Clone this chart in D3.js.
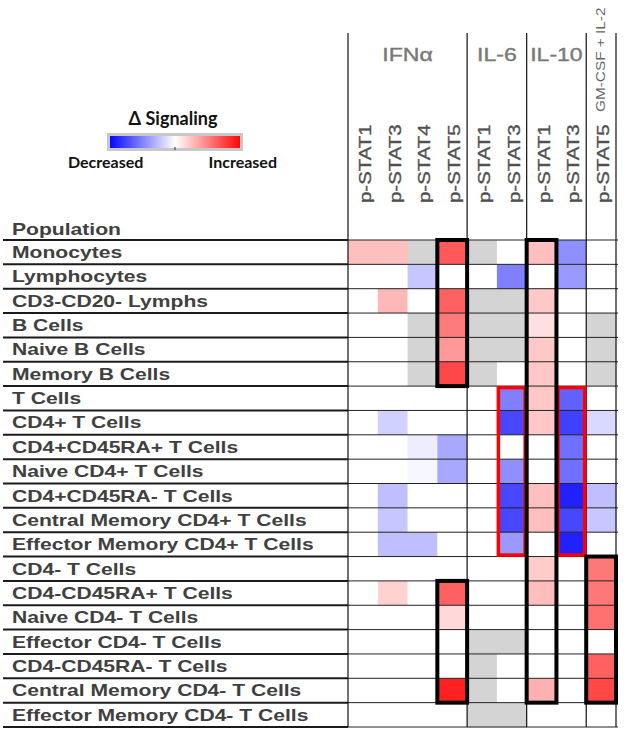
<!DOCTYPE html>
<html>
<head>
<meta charset="utf-8">
<script src="https://cdn.jsdelivr.net/npm/d3@7"></script>
<style>
  body { margin: 0; background: #fff; }
  svg { display: block; }
</style>
</head>
<body>
<div id="chart"></div>
<script>
// populations (rows), top to bottom
var populations = [
    "Monocytes", "Lymphocytes", "CD3-CD20- Lymphs", "B Cells", "Naive B Cells",
    "Memory B Cells", "T Cells", "CD4+ T Cells", "CD4+CD45RA+ T Cells",
    "Naive CD4+ T Cells", "CD4+CD45RA- T Cells", "Central Memory CD4+ T Cells",
    "Effector Memory CD4+ T Cells", "CD4- T Cells", "CD4-CD45RA+ T Cells",
    "Naive CD4- T Cells", "Effector CD4- T Cells", "CD4-CD45RA- T Cells",
    "Central Memory CD4- T Cells", "Effector Memory CD4- T Cells"
];

// readouts (columns)
var readouts = ["p-STAT1", "p-STAT3", "p-STAT4", "p-STAT5", "p-STAT1", "p-STAT3", "p-STAT1", "p-STAT3", "p-STAT5"];

// stimulations and how many readouts each spans
var stimNames = ["IFN\u03b1", "IL-6", "IL-10", "GM-CSF + IL-2"];
var stimSpans = [4, 2, 2, 1];

// change in signaling, -1 (decreased) .. 1 (increased); null = not measured (gray)
var N = null;
var values = [
    [0.25, 0.25, N, 0.65, N, 0, 0.25, -0.44, 0],
    [0, 0, -0.22, 0, 0, -0.5, 0, -0.4, 0],
    [0, 0.28, 0, 0.62, N, N, 0.21, 0, 0],
    [0, 0, N, 0.52, N, N, 0.12, 0, N],
    [0, 0, N, 0.4, N, N, 0.21, 0, N],
    [0, 0, N, 0.72, N, 0, 0.22, 0, N],
    [0, 0, 0, 0, 0, -0.5, 0.22, -0.62, 0],
    [0, -0.18, 0, 0, 0, -0.72, 0.22, -0.75, -0.15],
    [0, 0, -0.07, -0.34, 0, 0, 0, -0.56, 0],
    [0, 0, -0.03, -0.34, 0, -0.44, 0, -0.56, 0],
    [0, -0.25, 0, 0, 0, -0.72, 0.25, -0.87, -0.25],
    [0, -0.22, 0, 0, 0, -0.72, 0.25, -0.72, -0.22],
    [0, -0.25, -0.25, 0, 0, -0.4, 0, -0.87, 0],
    [0, 0, 0, 0, 0, 0, 0.2, 0, 0.53],
    [0, 0.18, 0, 0.62, 0, 0, 0.26, 0, 0.53],
    [0, 0, 0, 0.15, 0, 0, 0, 0, 0.56],
    [0, 0, 0, 0, N, N, 0, 0, 0],
    [0, 0, 0, 0, N, 0, 0, 0, 0.62],
    [0, 0, 0, 0.87, N, 0, 0.31, 0, 0.72],
    [0, 0, 0, 0, N, N, 0, 0, 0]
];

// highlighted blocks: [column, first row, last row]
var blackBoxes = [[3, 0, 5], [6, 0, 18], [3, 14, 18], [8, 13, 18]];
var redBoxes = [[5, 6, 12], [7, 6, 12]];

var width = 625, height = 732;

var svg = d3.select("#chart").append("svg")
    .attr("width", width)
    .attr("height", height);

var x = d3.scaleBand().domain(d3.range(readouts.length)).range([348, 616]);
var y = d3.scaleBand().domain(d3.range(populations.length)).range([240, 727]);

var color = d3.scaleLinear()
    .domain([-1, 0, 1])
    .range(["#0000ff", "#ffffff", "#ff0000"]);

// stretch text horizontally (the original font runs wide)
function widen(sel, factor) {
    sel.each(function() {
        var len = this.getComputedTextLength();
        d3.select(this)
            .attr("textLength", len * factor)
            .attr("lengthAdjust", "spacingAndGlyphs");
    });
}

// cells
var cells = [];
values.forEach(function(row, r) {
    row.forEach(function(v, c) { cells.push({ r: r, c: c, v: v }); });
});

svg.append("g").selectAll("rect")
    .data(cells)
    .enter().append("rect")
    .attr("x", function(d) { return x(d.c); })
    .attr("y", function(d) { return y(d.r); })
    .attr("width", x.bandwidth() + 0.5)
    .attr("height", y.bandwidth() + 0.5)
    .attr("fill", function(d) { return d.v === null ? "#d4d4d4" : color(d.v); });

// horizontal rules
var rowEdges = d3.range(populations.length + 1).map(function(i) {
    return i < populations.length ? y(i) : y.range()[1];
});

svg.append("g").selectAll("line")
    .data(rowEdges)
    .enter().append("line")
    .attr("x1", 3).attr("x2", 348)
    .attr("y1", function(d) { return d; })
    .attr("y2", function(d) { return d; })
    .attr("stroke", "#1a1a1a")
    .attr("stroke-width", 2);

svg.append("g").selectAll("line")
    .data(rowEdges)
    .enter().append("line")
    .attr("x1", 348).attr("x2", 618)
    .attr("y1", function(d) { return d; })
    .attr("y2", function(d) { return d; })
    .attr("stroke", "#222")
    .attr("stroke-width", 1);

// group separators
var groupEdges = [0];
stimSpans.forEach(function(s, i) { groupEdges.push(groupEdges[i] + s); });

svg.append("g").selectAll("line")
    .data(groupEdges)
    .enter().append("line")
    .attr("x1", function(i) { return i < readouts.length ? x(i) : x.range()[1]; })
    .attr("x2", function(i) { return i < readouts.length ? x(i) : x.range()[1]; })
    .attr("y1", 33).attr("y2", 727)
    .attr("stroke", "#111")
    .attr("stroke-width", 1.2);

// highlight boxes
function drawBoxes(list, stroke, sw, inset) {
    svg.append("g").selectAll("rect")
        .data(list)
        .enter().append("rect")
        .attr("x", function(d) { return x(d[0]) + inset; })
        .attr("y", function(d) { return y(d[1]) + inset; })
        .attr("width", x.bandwidth() - 2 * inset)
        .attr("height", function(d) { return y(d[2]) + y.bandwidth() - y(d[1]) - 2 * inset; })
        .attr("fill", "none")
        .attr("stroke", stroke)
        .attr("stroke-width", sw);
}
drawBoxes(redBoxes, "#ff0000", 3.5, 1.5);
drawBoxes(blackBoxes, "#000", 4, 0);

// row labels
svg.append("text")
    .attr("x", 12).attr("y", 235)
    .attr("font-family", "Liberation Sans, Arial, sans-serif")
    .attr("font-weight", "bold")
    .attr("font-size", 17)
    .attr("fill", "#404040")
    .text("Population")
    .call(widen, 1.24);

svg.append("g").selectAll("text")
    .data(populations)
    .enter().append("text")
    .attr("x", 12)
    .attr("y", function(d, i) { return y(i) + 18; })
    .attr("font-family", "Liberation Sans, Arial, sans-serif")
    .attr("font-weight", "bold")
    .attr("font-size", 17)
    .attr("fill", "#404040")
    .text(function(d) { return d; })
    .call(widen, 1.24);

// column labels
svg.append("g").selectAll("text")
    .data(readouts)
    .enter().append("text")
    .attr("transform", function(d, i) {
        return "translate(" + (x(i) + x.bandwidth() / 2 + 8) + ",203) rotate(-90)";
    })
    .attr("font-family", "Liberation Sans, Arial, sans-serif")
    .attr("font-size", 17)
    .attr("fill", "#505050")
    .attr("stroke", "#505050")
    .attr("stroke-width", 0.35)
    .text(function(d) { return d; })
    .call(widen, 1.2);

// stimulation headers
var stimCenters = stimSpans.map(function(s, i) {
    return x(groupEdges[i]) + s * x.step() / 2;
});

svg.append("g").selectAll("text")
    .data(stimNames.slice(0, 3))
    .enter().append("text")
    .attr("x", function(d, i) { return stimCenters[i]; })
    .attr("y", 61)
    .attr("text-anchor", "middle")
    .attr("font-family", "Liberation Sans, Arial, sans-serif")
    .attr("font-size", 18)
    .attr("fill", "#7a7a7a")
    .attr("stroke", "#7a7a7a")
    .attr("stroke-width", 0.4)
    .text(function(d) { return d; })
    .call(widen, 1.28);

svg.append("text")
    .attr("transform", "translate(" + (stimCenters[3] + 4) + ",112) rotate(-90)")
    .attr("font-family", "Liberation Sans, Arial, sans-serif")
    .attr("font-size", 13)
    .attr("fill", "#666")
    .text(stimNames[3])
    .call(widen, 1.18);

// legend
var legendX = d3.scaleLinear().domain([-1, 1]).range([112, 238]);

var grad = svg.append("defs").append("linearGradient").attr("id", "sig-grad");
grad.selectAll("stop")
    .data([-1, 0, 1])
    .enter().append("stop")
    .attr("offset", function(d) { return ((d + 1) / 2 * 100) + "%"; })
    .attr("stop-color", function(d) { return color(d); });

svg.append("rect")
    .attr("x", legendX(-1) - 3.5).attr("y", 134.5)
    .attr("width", legendX(1) - legendX(-1) + 7).attr("height", 15)
    .attr("fill", "url(#sig-grad)")
    .attr("stroke", "#c8c8c8")
    .attr("stroke-width", 3);

svg.append("line")
    .attr("x1", legendX(0)).attr("x2", legendX(0))
    .attr("y1", 147).attr("y2", 150)
    .attr("stroke", "#333");

svg.append("text")
    .attr("x", 173).attr("y", 125)
    .attr("text-anchor", "middle")
    .attr("font-family", "Lato, Open Sans, sans-serif")
    .attr("font-weight", "bold")
    .attr("font-size", 18)
    .attr("fill", "#111")
    .text("\u0394 Signaling");

svg.append("text")
    .attr("x", 68).attr("y", 168)
    .attr("font-family", "Lato, Open Sans, sans-serif")
    .attr("font-weight", "bold")
    .attr("font-size", 16)
    .attr("fill", "#111")
    .text("Decreased");

svg.append("text")
    .attr("x", 277).attr("y", 168)
    .attr("text-anchor", "end")
    .attr("font-family", "Lato, Open Sans, sans-serif")
    .attr("font-weight", "bold")
    .attr("font-size", 16)
    .attr("fill", "#111")
    .text("Increased");
</script>
</body>
</html>
